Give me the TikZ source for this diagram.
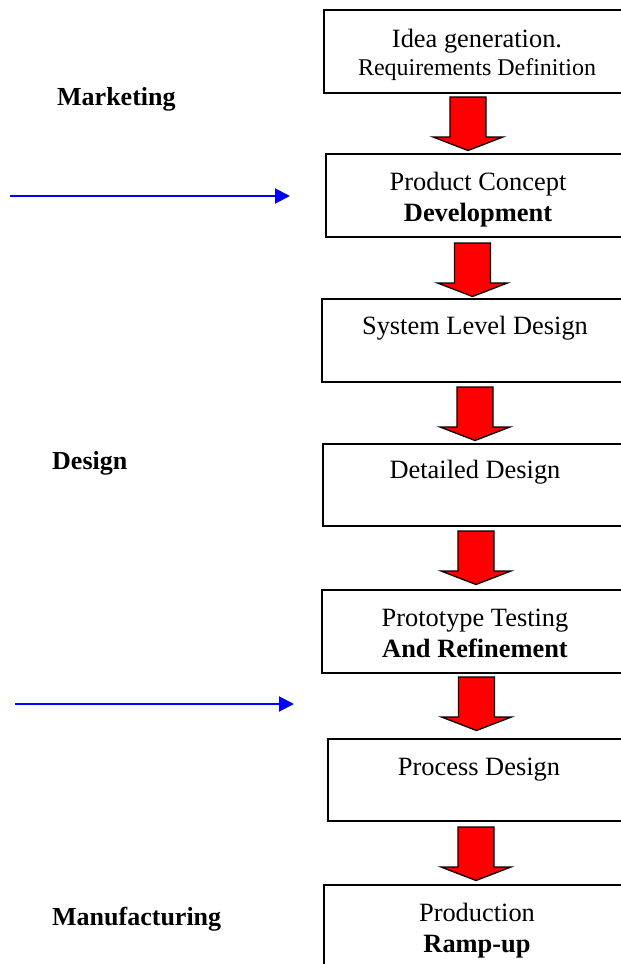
\documentclass[tikz,border=0pt]{standalone}
\usepackage{fontspec}
\setmainfont{Liberation Serif}
\usetikzlibrary{arrows.meta}
\tikzset{
  stagebox/.style={draw=black, line width=2pt},
  big/.style={font=\fontsize{26.4}{30}\selectfont, inner sep=0pt, anchor=base},
  small/.style={font=\fontsize{24}{28}\selectfont, inner sep=0pt, anchor=base},
  side/.style={font=\fontsize{26}{30}\selectfont\bfseries, inner sep=0pt, anchor=base west},
  bluearrow/.style={draw={rgb,255:red,0;green,0;blue,255}, line width=2pt, -{Triangle[length=15pt,width=15pt]}},
  redarrow/.pic={\draw[fill=red, line width=1.3pt, line join=miter]
      (-18,0) -- (18,0) -- (18,40) -- (35,40) -- (0,53.5) -- (-35,40) -- (-18,40) -- cycle;}
}
\begin{document}
\begin{tikzpicture}[x=1pt,y=-1pt]
\useasboundingbox (0,0) rectangle (621,964);
\clip (0,0) rectangle (621,964);
% boxes
\draw[stagebox] (324,10) rectangle (700,93);
\draw[stagebox] (326,154) rectangle (700,237);
\draw[stagebox] (322,299) rectangle (700,382);
\draw[stagebox] (323,444) rectangle (700,526);
\draw[stagebox] (322,590) rectangle (700,673);
\draw[stagebox] (328,739) rectangle (700,821);
\draw[stagebox] (324,885) rectangle (700,1000);
% box texts
\node[big] (t1a) at (477,47) {Idea generation.};
\node[small] (t1b) at (477,75) {Requirements Definition};
\node[big] (t2a) at (478,190) {Product Concept};
\node[big,font=\fontsize{26.4}{30}\selectfont\bfseries] (t2b) at (478,221) {Development};
\node[big] (t3) at (475,334) {System Level Design};
\node[big] (t4) at (475,478) {Detailed Design};
\node[big] (t5a) at (475,626) {Prototype Testing};
\node[big,font=\fontsize{26.4}{30}\selectfont\bfseries] (t5b) at (475,657) {And Refinement};
\node[big] (t6) at (479,775) {Process Design};
\node[big] (t7a) at (477,921) {Production};
\node[big,font=\fontsize{26.4}{30}\selectfont\bfseries] (t7b) at (477,952) {Ramp-up};
% red block arrows
\pic at (468,97) {redarrow};
\pic at (472.5,243) {redarrow};
\pic at (475,387) {redarrow};
\pic at (476,531) {redarrow};
\pic at (476.5,677) {redarrow};
\pic at (476,827) {redarrow};
% side labels
\node[side] (mk) at (57,105) {Marketing};
\node[side] (ds) at (52,469) {Design};
\node[side] (mf) at (52,925) {Manufacturing};
% blue arrows
\coordinate (b1s) at (10,196);
\coordinate (b1e) at (290,196);
\coordinate (b2s) at (15,704);
\coordinate (b2e) at (294,704);
\draw[bluearrow] (b1s) -- (b1e);
\draw[bluearrow] (b2s) -- (b2e);
\end{tikzpicture}
\end{document}
